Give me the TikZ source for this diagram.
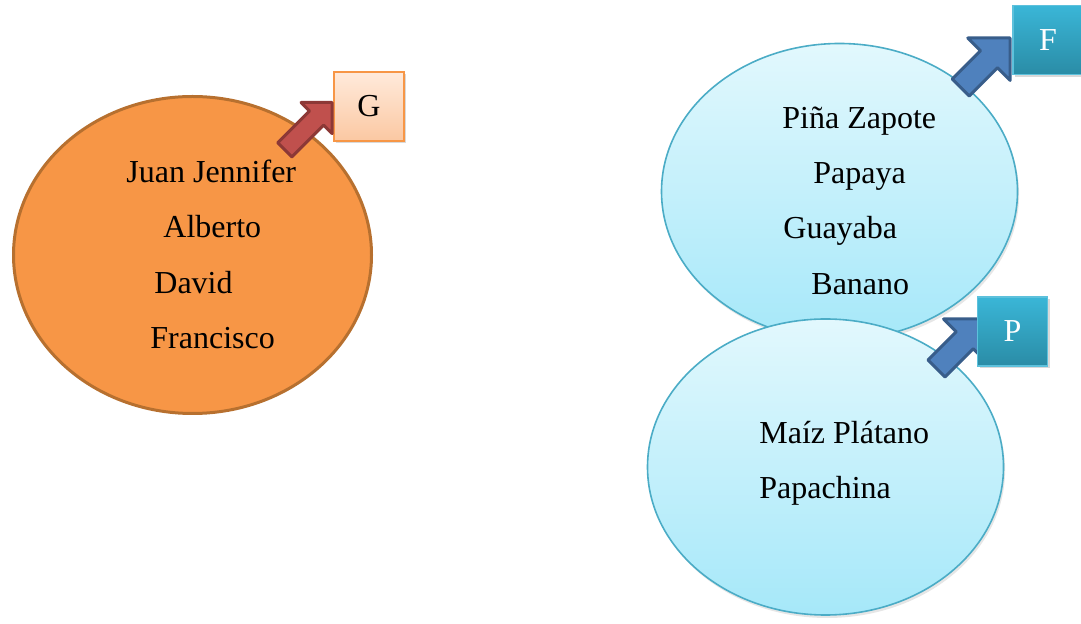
\documentclass[tikz,border=0pt]{standalone}
\usepackage{fontspec}
\setmainfont{Liberation Serif}
\usetikzlibrary{calc,positioning,shapes.geometric,shadows}
\definecolor{orgfill}{HTML}{F79646}
\definecolor{orgline}{HTML}{B7702F}
\definecolor{cyantop}{HTML}{E2F8FD}
\definecolor{cyanbot}{HTML}{A6E8F9}
\definecolor{cyanline}{HTML}{4BACC6}
\definecolor{peachtop}{HTML}{FFEADB}
\definecolor{peachbot}{HTML}{FBC8A2}
\definecolor{tealtop}{HTML}{3AB6D7}
\definecolor{tealbot}{HTML}{2A8CA6}
\definecolor{tealline}{HTML}{5DC1DC}
\definecolor{bluefill}{HTML}{4F81BD}
\definecolor{blueline}{HTML}{385D8A}
\definecolor{redfill}{HTML}{C0504D}
\definecolor{redline}{HTML}{8C3836}
\tikzset{%
	group/.style    = {draw, ellipse, inner sep=0pt},
	groupG/.style   = {group, fill=orgfill, draw=orgline, line width=1.5pt, minimum width=179pt, minimum height=158.5pt},
	groupF/.style   = {group, top color=cyantop, bottom color=cyanbot, draw=cyanline, line width=0.8pt, minimum width=178pt, minimum height=148pt, drop shadow={opacity=0.2, shadow xshift=0.8pt, shadow yshift=-1.5pt}},
	tag/.style      = {draw, rectangle, minimum width=35pt, minimum height=34.5pt, inner sep=0pt, font=\fontsize{16}{19}\selectfont, drop shadow={opacity=0.3, shadow xshift=1.2pt, shadow yshift=-1.2pt}},
	tagG/.style     = {tag, top color=peachtop, bottom color=peachbot, draw=orgfill, line width=0.8pt},
	tagF/.style     = {tag, top color=tealtop, bottom color=tealbot, draw=tealline, line width=0.8pt, text=white},
	item/.style     = {anchor=base west, inner sep=0pt, font=\fontsize{16}{19}\selectfont},
	redarrow/.style = {fill=redfill, draw=redline, line width=1.5pt, line join=round},
	bluearrow/.style= {fill=bluefill, draw=blueline, line width=1.5pt, line join=round},
	pics/bigarrow/.style args={#1/#2/#3}{code={%
		\draw[pic actions] (0,0) -- (-#2,#2) -- (-#2,#3) -- (-#1,#3) -- (-#1,-#3) -- (-#2,-#3) -- (-#2,-#2) -- cycle;}},
}
\begin{document}
\begin{tikzpicture}[x=0.5pt,y=0.5pt]
	\useasboundingbox (0,0) rectangle (1081,-624);
	% personas
	\node [groupG] (gente) at (192.5,-255) {};
	\node [tagG] (tG) at (369,-106.5) {G};
	\pic [redarrow, rotate=45] (arrG) at ($(tG.west)+(-1,4)$) {bigarrow=67/22/10};
	\node [item] (juan) at (126,-183) {Juan Jennifer};
	\node [item] (alberto) at (163,-238) {Alberto};
	\node [item] (david) at (154,-294) {David};
	\node [item] (francisco) at (150,-349) {Francisco};
	% frutas
	\node [groupF] (frutas) at (839.5,-191.5) {};
	\node [tagF] (tF) at (1048,-40) {F};
	\pic [bluearrow, rotate=45] (arrF) at ($(tF.west)+(-2,2)$) {bigarrow=70/30/12};
	\node [item] (pina) at (782,-129) {Piña Zapote};
	\node [item] (papaya) at (813,-184) {Papaya};
	\node [item] (guayaba) at (783,-239) {Guayaba};
	\node [item] (banano) at (811,-295) {Banano};
	% plantas
	\node [groupF] (plantas) at (825.5,-467) {};
	\pic [bluearrow, rotate=45] (arrP) at (986,-319) {bigarrow=70/30/12};
	\node [tagF] (tP) at (1012.5,-331.5) {P};
	\node [item] (maiz) at (759,-444) {Maíz Plátano};
	\node [item] (papachina) at (759,-499) {Papachina};
\end{tikzpicture}
\end{document}
